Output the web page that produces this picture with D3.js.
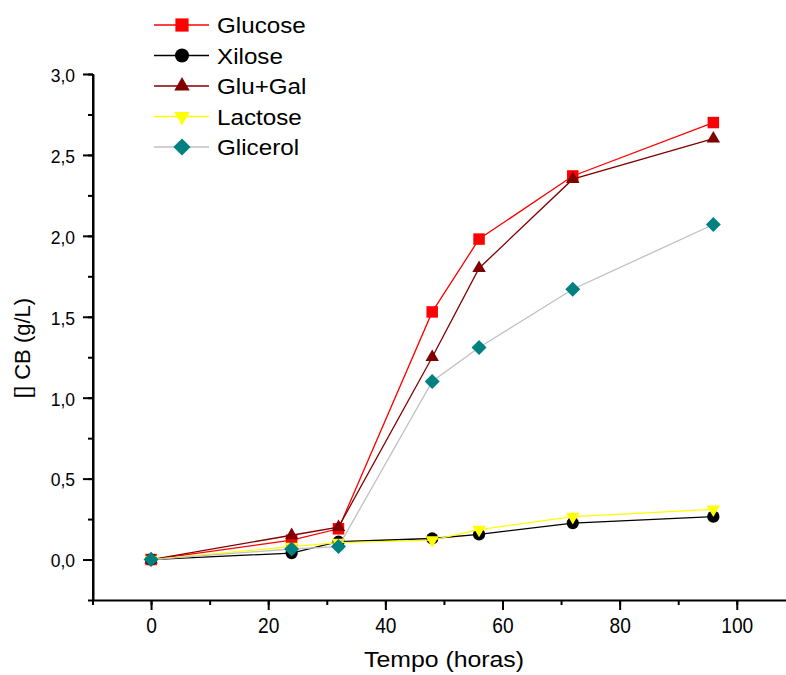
<!DOCTYPE html>
<meta charset="utf-8">
<style>
  body { margin: 0; background: #fff; }
  text { font-family: Arial, "Liberation Sans", sans-serif; fill: #000; }
</style>

<!-- Load d3.js -->
<script src="https://d3js.org/d3.v7.min.js"></script>

<!-- Create a div where the graph will take place -->
<div id="my_dataviz"></div>

<script>

// the data
var tempo    = [0, 24, 32, 48, 56, 72, 96];
var glucose  = [0, 0.12, 0.19, 1.53, 1.98, 2.37, 2.70];
var xilose   = [0, 0.04, 0.11, 0.13, 0.155, 0.225, 0.265];
var gluGal   = [0, 0.15, 0.20, 1.25, 1.80, 2.35, 2.60];
var lactose  = [0, 0.08, 0.105, 0.12, 0.185, 0.265, 0.31];
var glicerol = [0, 0.065, 0.08, 1.10, 1.31, 1.67, 2.07];

var seriesNames = ["Glucose", "Xilose", "Glu+Gal", "Lactose", "Glicerol"];
var xTicks = [0, 20, 40, 60, 80, 100];
var yTicks = [0, 0.5, 1.0, 1.5, 2.0, 2.5, 3.0];

// styles per series
var series = [
  {name: seriesNames[0], values: glucose,  line: "#ff0000", fill: "#ff0000", shape: "square"},
  {name: seriesNames[1], values: xilose,   line: "#000000", fill: "#000000", shape: "circle"},
  {name: seriesNames[2], values: gluGal,   line: "#800000", fill: "#800000", shape: "up"},
  {name: seriesNames[3], values: lactose,  line: "#ffff00", fill: "#ffff00", shape: "down"},
  {name: seriesNames[4], values: glicerol, line: "#c0c0c0", fill: "#008080", shape: "diamond"}
];

var width = 786, height = 675;

var svg = d3.select("#my_dataviz")
  .append("svg")
    .attr("width", width)
    .attr("height", height);

// scales
var x = d3.scaleLinear()
  .domain([-10, 110])
  .range([92.5, 92.5 + 120 * 5.857]);

var y = d3.scaleLinear()
  .domain([-0.25, 3])
  .range([600, 74]);

var fmt = function(d) { return d3.format(".1f")(d).replace(".", ","); };

// X axis: minor ticks first, then major with labels
svg.append("g")
  .attr("transform", "translate(0,600)")
  .call(d3.axisBottom(x).tickValues(d3.range(-10, 111, 10)).tickSize(5).tickSizeOuter(0).tickFormat(""))
  .call(function(g) { g.select(".domain").remove(); });

var xAxis = svg.append("g")
  .attr("transform", "translate(0,600)")
  .call(d3.axisBottom(x).tickValues(xTicks).tickSize(10).tickSizeOuter(0).tickPadding(7));
// tick labels in the original are narrow and tall
xAxis.selectAll("text")
  .style("font-size", "22px")
  .each(function() {
    var t = d3.select(this);
    t.attr("textLength", this.getComputedTextLength() * 0.87)
     .attr("lengthAdjust", "spacingAndGlyphs");
  });

// Y axis
svg.append("g")
  .attr("transform", "translate(93,0)")
  .call(d3.axisLeft(y).tickValues(d3.range(-0.25, 3.01, 0.25)).tickSize(5).tickSizeOuter(0).tickFormat(""))
  .call(function(g) { g.select(".domain").remove(); });

var yAxis = svg.append("g")
  .attr("transform", "translate(93,0)")
  .call(d3.axisLeft(y).tickValues(yTicks).tickSize(10).tickSizeOuter(0).tickPadding(8).tickFormat(fmt));
yAxis.selectAll("text")
  .style("font-size", "17.5px")
  .attr("dy", "0.42em");

// axis lines a bit heavier, like the original
svg.selectAll(".tick line").attr("stroke-width", 2);
svg.selectAll(".domain").attr("stroke-width", 2);
svg.append("line")
  .attr("x1", 93).attr("x2", 93)
  .attr("y1", 74).attr("y2", 603)
  .attr("stroke", "#000").attr("stroke-width", 2);

// marker path generator
function markerPath(shape, big) {
  var k = big ? 1.15 : 1;
  if (shape == "square") return d3.symbol().type(d3.symbolSquare).size(132 * k * k)();
  if (shape == "circle") return d3.symbol().type(d3.symbolCircle).size(118 * k * k)();
  if (shape == "up" || shape == "down") return d3.symbol().type(d3.symbolTriangle).size(78 * k * k)();
  if (shape == "diamond") return d3.symbol().type(d3.symbolSquare).size(112 * k * k)();
}
function markerRotate(shape) {
  if (shape == "down") return " rotate(180)";
  if (shape == "diamond") return " rotate(45)";
  return "";
}

var line = d3.line()
  .x(function(d, i) { return x(tempo[i]); })
  .y(function(d) { return y(d); });

// Add lines and dots, one series after the other
series.forEach(function(s) {
  svg.append("path")
    .datum(s.values)
    .attr("fill", "none")
    .attr("stroke", s.line)
    .attr("stroke-width", 1.3)
    .attr("d", line);

  svg.append("g")
    .selectAll("path")
    .data(s.values)
    .enter()
    .append("path")
      .attr("d", markerPath(s.shape, false))
      .attr("transform", function(d, i) {
        return "translate(" + x(tempo[i]) + "," + y(d) + ")" + markerRotate(s.shape);
      })
      .attr("fill", s.fill);
});

// legend
var legend = svg.append("g");
series.forEach(function(s, i) {
  var ly = 25 + i * 30.5;
  legend.append("line")
    .attr("x1", 154).attr("x2", 209)
    .attr("y1", ly).attr("y2", ly)
    .attr("stroke", s.line)
    .attr("stroke-width", 1.3);
  legend.append("path")
    .attr("d", markerPath(s.shape, true))
    .attr("transform", "translate(182," + ly + ")" + markerRotate(s.shape))
    .attr("fill", s.fill);
  var t = legend.append("text")
    .attr("x", 217)
    .attr("y", ly + 8)
    .style("font-size", "22px")
    .text(s.name);
  t.attr("textLength", t.node().getComputedTextLength() * 1.1)
   .attr("lengthAdjust", "spacingAndGlyphs");
});

// text label for the x axis
var xt = svg.append("text")
  .attr("x", 364)
  .attr("y", 667)
  .style("font-size", "22px")
  .text("Tempo (horas)");
xt.attr("textLength", 160).attr("lengthAdjust", "spacingAndGlyphs");

// text label for the y axis
svg.append("text")
  .attr("transform", "translate(30,348) rotate(-90)")
  .style("text-anchor", "middle")
  .style("font-size", "22px")
  .text("[] CB (g/L)");

</script>
